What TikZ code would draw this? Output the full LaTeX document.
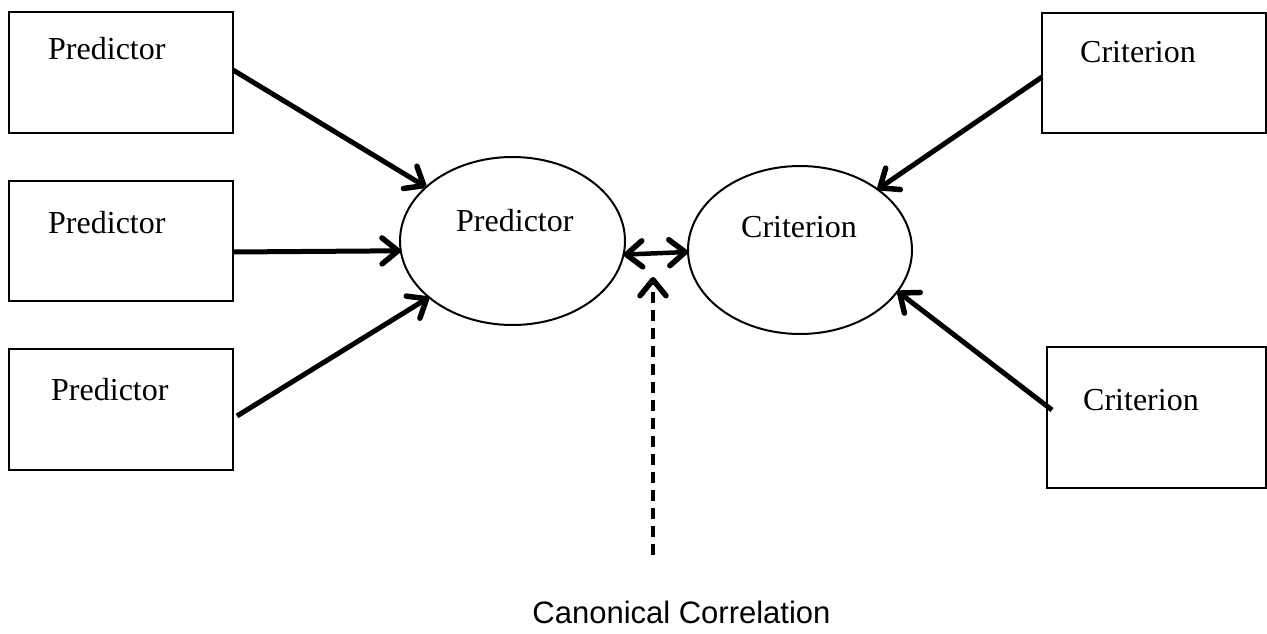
\documentclass[tikz,border=0pt]{standalone}
\usepackage{fontspec}
\setmainfont{Liberation Serif}
\newfontfamily\sansf{Liberation Sans}
\usetikzlibrary{arrows.meta,shapes.geometric}
\begin{document}
\begin{tikzpicture}[x=1pt,y=-1pt,
  boxnode/.style={draw,line width=2pt,rectangle,inner sep=0pt,outer sep=0pt},
  ellnode/.style={draw,line width=2pt,ellipse,inner sep=0pt,outer sep=0pt,minimum width=225pt,minimum height=168pt},
  lbl/.style={inner sep=0pt,anchor=base west,font=\fontsize{32}{36}\selectfont},
  mybarb/.tip={Straight Barb[length=16pt,width=26pt,line width=5.5pt,round]},
  conn/.style={line width=5pt,-{mybarb}},
]
\useasboundingbox (0,0) rectangle (1267,634);
% boxes
\node[boxnode,minimum width=224pt,minimum height=121pt] (p1) at (121,72.5) {};
\node[boxnode,minimum width=224pt,minimum height=120pt] (p2) at (121,241) {};
\node[boxnode,minimum width=224pt,minimum height=121pt] (p3) at (121,409.5) {};
\node[boxnode,minimum width=224pt,minimum height=120pt] (c1) at (1154,73) {};
\node[boxnode,minimum width=219pt,minimum height=141pt] (c2) at (1156.5,417.5) {};
\node[lbl] (p1t) at (48,60) {Predictor};
\node[lbl] (p2t) at (48,233) {Predictor};
\node[lbl] (p3t) at (51,400) {Predictor};
\node[lbl] (c1t) at (1080,63) {Criterion};
\node[lbl] (c2t) at (1083,410) {Criterion};
% ellipses
\node[ellnode] (pe) at (512.5,241) {};
\node[ellnode,minimum width=224pt] (ce) at (800,250) {};
\node[lbl] (pet) at (456,231) {Predictor};
\node[lbl] (cet) at (741,237) {Criterion};
% connectors
\draw[conn] ([yshift=2.5pt]p1.east) -- (pe.148.3);
\draw[conn] ([yshift=-11pt]p2.east) -- (pe.185.6);
\draw[conn] ([xshift=4pt,yshift=-6.5pt]p3.east) -- (pe.214.2);
\draw[conn] ([yshift=-4pt]c1.west) -- (ce.38.9);
\draw[conn] ([xshift=5pt,yshift=7.5pt]c2.west) -- (ce.337.8);
\draw[line width=4.5pt,{mybarb}-{mybarb}] (pe.-7.5) -- (ce.181.6);
% canonical correlation
\coordinate (dbot) at (653,555);
\coordinate (dtop) at (653,277);
\draw[line width=3.5pt,dash pattern=on 11pt off 7pt,-{mybarb}] (dbot) -- (dtop);
\node[inner sep=0pt,anchor=base,font=\sansf\fontsize{31}{36}\selectfont] (cc) at (681.5,623) {Canonical Correlation};
\end{tikzpicture}
\end{document}
